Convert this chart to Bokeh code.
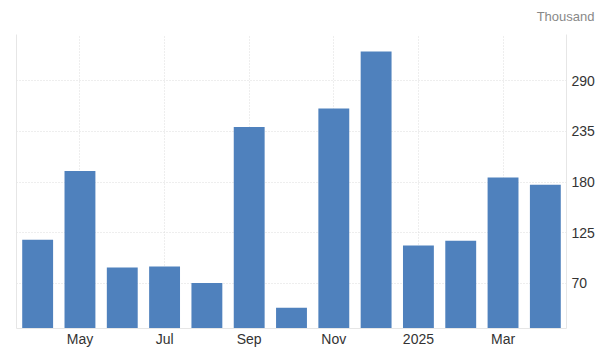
from bokeh.plotting import figure
from bokeh.models import (LinearAxis, FixedTicker, Range1d, Grid, ColumnDataSource)
from bokeh.embed import file_html
from bokeh.resources import INLINE

months = ["Apr", "May", "Jun", "Jul", "Aug", "Sep", "Oct", "Nov", "Dec",
          "Jan", "Feb", "Mar", "Apr"]
values = [117, 192, 87, 88, 70, 240, 43, 260, 322, 111, 116, 185, 177]
tick_idx = [1, 3, 5, 7, 9, 11]
tick_labels = ["May", "Jul", "Sep", "Nov", "2025", "Mar"]
y_ticks = [70, 125, 180, 235, 290]
unit_label = "Thousand"

FONT = "Liberation Sans"
idx = list(range(len(values)))
src = ColumnDataSource(dict(x=idx, top=values))

y_lo, y_hi = 20.5, 340.6
p = figure(width=599, height=349, output_backend="svg", toolbar_location=None,
           x_range=Range1d(-0.5, len(values) - 0.5), y_range=Range1d(y_lo, y_hi),
           min_border_left=16, min_border_right=33, min_border_top=34,
           min_border_bottom=20, y_axis_location="right", title=unit_label)
p.outline_line_color = None
p.background_fill_color = "white"
p.border_fill_color = "white"
p.title.align = "right"
p.title.vertical_align = "top"
p.title.offset = -28
p.title.standoff = 17
p.title.text_font = FONT
p.title.text_font_size = "13px"
p.title.text_font_style = "normal"
p.title.text_color = "#888888"

p.vbar(x="x", top="top", bottom=y_lo, width=0.73, source=src,
       fill_color="#4f81bd", line_color=None)

# x axis
xa = p.xaxis[0]
xa.ticker = FixedTicker(ticks=tick_idx)
xa.major_label_overrides = {i: l for i, l in zip(tick_idx, tick_labels)}
xa.axis_line_color = "#e6e6e6"
xa.major_tick_line_color = None
xa.minor_tick_line_color = None
xa.major_tick_out = 0
xa.major_tick_in = 0
xa.major_label_text_font = FONT
xa.major_label_text_font_size = "14px"
xa.major_label_text_color = "#333333"
xa.major_label_standoff = 2

# y axis (right)
ya = p.yaxis[0]
ya.ticker = FixedTicker(ticks=y_ticks)
ya.axis_line_color = "#e6e6e6"
ya.major_tick_line_color = None
ya.minor_tick_line_color = None
ya.major_tick_out = 0
ya.major_tick_in = 0
ya.major_label_text_font = FONT
ya.major_label_text_font_size = "14px"
ya.major_label_text_color = "#333333"
ya.major_label_standoff = 5

# left border line
la = LinearAxis(ticker=FixedTicker(ticks=[]), axis_line_color="#e6e6e6",
                major_tick_line_color=None, minor_tick_line_color=None,
                major_tick_out=0, major_tick_in=0, major_label_standoff=0,
                major_label_text_font_size="0px")
p.add_layout(la, "left")

for g in p.grid:
    g.grid_line_color = "#dddddd"
    g.grid_line_dash = "1 2"
    g.grid_line_width = 1

top_grid = Grid(dimension=1, ticker=FixedTicker(ticks=[y_hi]),
                grid_line_color="#dddddd", grid_line_dash="1 2")
p.add_layout(top_grid)

open("out.html", "w").write(file_html(p, INLINE))
